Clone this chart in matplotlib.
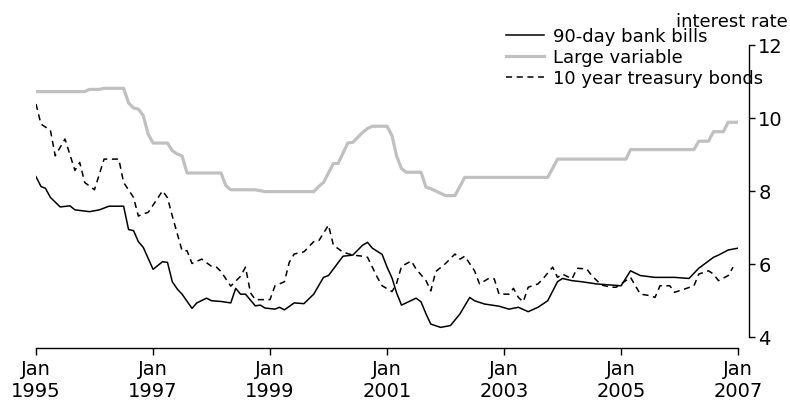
import matplotlib
matplotlib.use("Agg")
import matplotlib.pyplot as plt
import pandas as pd

plt.rcParams["font.family"] = ["DejaVu Sans"]
plt.rcParams["font.size"] = 13

# 90-day bank bills (%)
bill_months = [
    "1995-01", "1995-02", "1995-03", "1995-04", "1995-06", "1995-08", "1995-09", "1995-12",
    "1996-02", "1996-04", "1996-07", "1996-08", "1996-09", "1996-10", "1996-11",
    "1997-01", "1997-03", "1997-04", "1997-05", "1997-06", "1997-07", "1997-09", "1997-10", "1997-12",
    "1998-01", "1998-03", "1998-05", "1998-06", "1998-07", "1998-08", "1998-10", "1998-11", "1998-12",
    "1999-02", "1999-03", "1999-04", "1999-06", "1999-08", "1999-10", "1999-12",
    "2000-01", "2000-04", "2000-06", "2000-08", "2000-09", "2000-10", "2000-12",
    "2001-01", "2001-02", "2001-03", "2001-04", "2001-07", "2001-08", "2001-09", "2001-10", "2001-12",
    "2002-02", "2002-04", "2002-06", "2002-07", "2002-09", "2002-12",
    "2003-02", "2003-04", "2003-06", "2003-08", "2003-10", "2003-12",
    "2004-01", "2004-03", "2004-05", "2004-08", "2004-11",
    "2005-01", "2005-03", "2005-05", "2005-08", "2005-12",
    "2006-03", "2006-05", "2006-08", "2006-09", "2006-11", "2007-01",
]
bill_rates = [
    8.38, 8.11, 8.06, 7.81, 7.55, 7.58, 7.47, 7.42,
    7.47, 7.57, 7.57, 6.93, 6.90, 6.60, 6.44,
    5.84, 6.05, 6.03, 5.50, 5.30, 5.16, 4.77, 4.92, 5.05,
    4.98, 4.96, 4.92, 5.32, 5.16, 5.16, 4.84, 4.86, 4.78,
    4.75, 4.80, 4.73, 4.92, 4.90, 5.16, 5.62,
    5.67, 6.20, 6.23, 6.50, 6.58, 6.42, 6.25,
    5.90, 5.60, 5.20, 4.86, 5.05, 4.95, 4.62, 4.34, 4.25,
    4.30, 4.62, 5.07, 4.98, 4.89, 4.83,
    4.75, 4.80, 4.68, 4.80, 4.98, 5.50,
    5.59, 5.53, 5.50, 5.44, 5.41,
    5.39, 5.80, 5.67, 5.62, 5.62,
    5.59, 5.87, 6.17, 6.23, 6.37, 6.42,
]

# Large variable (%)
large_months = [
    "1995-01", "1995-11", "1995-12", "1996-02", "1996-03", "1996-07", "1996-08", "1996-09",
    "1996-10", "1996-11", "1996-12", "1997-01", "1997-04", "1997-05", "1997-06", "1997-07",
    "1997-08", "1998-03", "1998-04", "1998-05", "1998-10", "1998-12", "1999-10", "1999-11",
    "1999-12", "2000-02", "2000-03", "2000-05", "2000-06", "2000-08", "2000-09", "2000-10",
    "2001-01", "2001-02", "2001-03", "2001-04", "2001-05", "2001-08", "2001-09", "2001-10",
    "2002-01", "2002-03", "2002-05", "2003-10", "2003-12", "2005-02", "2005-03", "2006-04",
    "2006-05", "2006-07", "2006-08", "2006-10", "2006-11", "2007-01",
]
large_rates = [
    10.71, 10.71, 10.77, 10.77, 10.80, 10.80, 10.40, 10.26,
    10.23, 10.05, 9.55, 9.30, 9.30, 9.09, 9.00, 8.95,
    8.48, 8.48, 8.13, 8.02, 8.02, 7.97, 7.97, 8.11,
    8.22, 8.74, 8.74, 9.30, 9.32, 9.59, 9.70, 9.76,
    9.76, 9.50, 8.95, 8.60, 8.50, 8.50, 8.09, 8.05,
    7.86, 7.86, 8.36, 8.36, 8.86, 8.86, 9.12, 9.12,
    9.35, 9.35, 9.61, 9.61, 9.87, 9.87,
]

# 10 year treasury bonds (%)
bond_months = [
    "1995-01", "1995-02", "1995-04", "1995-05", "1995-07", "1995-09", "1995-10", "1995-11",
    "1996-01", "1996-03", "1996-06", "1996-07", "1996-09", "1996-10", "1996-11", "1996-12",
    "1997-01", "1997-03", "1997-04", "1997-05", "1997-07", "1997-08", "1997-09", "1997-11",
    "1998-01", "1998-02", "1998-03", "1998-05", "1998-07", "1998-08", "1998-09", "1998-10",
    "1999-01", "1999-02", "1999-04", "1999-05", "1999-06", "1999-08", "1999-10", "1999-11",
    "2000-01", "2000-02", "2000-04", "2000-06", "2000-08", "2000-09", "2000-11", "2000-12",
    "2001-02", "2001-03", "2001-04", "2001-06", "2001-07", "2001-09", "2001-10", "2001-11",
    "2002-01", "2002-03", "2002-04", "2002-05", "2002-07", "2002-08", "2002-10", "2002-11", "2002-12",
    "2003-02", "2003-03", "2003-04", "2003-05", "2003-06", "2003-08", "2003-09", "2003-11", "2003-12",
    "2004-01", "2004-03", "2004-04", "2004-06", "2004-07", "2004-09", "2004-11", "2004-12",
    "2005-01", "2005-03", "2005-05", "2005-07", "2005-08", "2005-09", "2005-11", "2005-12",
    "2006-02", "2006-04", "2006-05", "2006-07", "2006-08", "2006-09", "2006-11", "2006-12",
]
bond_rates = [
    10.37, 9.82, 9.65, 8.95, 9.41, 8.55, 8.77, 8.22,
    8.02, 8.86, 8.86, 8.22, 7.81, 7.30, 7.36, 7.40,
    7.60, 7.99, 7.80, 7.30, 6.35, 6.35, 6.00, 6.12,
    5.92, 5.90, 5.78, 5.38, 5.65, 5.90, 5.20, 5.01,
    5.01, 5.39, 5.50, 6.03, 6.26, 6.32, 6.60, 6.62,
    7.05, 6.50, 6.31, 6.23, 6.20, 6.17, 5.62, 5.39,
    5.23, 5.45, 5.92, 6.07, 5.85, 5.53, 5.25, 5.78,
    6.00, 6.26, 6.12, 6.20, 5.80, 5.44, 5.60, 5.58, 5.16,
    5.16, 5.32, 5.07, 4.95, 5.35, 5.44, 5.58, 5.90, 5.62,
    5.71, 5.58, 5.87, 5.85, 5.67, 5.41, 5.35, 5.35,
    5.44, 5.62, 5.16, 5.12, 5.07, 5.39, 5.39, 5.21,
    5.30, 5.39, 5.71, 5.80, 5.71, 5.53, 5.67, 5.90,
]

tick_years = [1995, 1997, 1999, 2001, 2003, 2005, 2007]
y_ticks = [4, 6, 8, 10, 12]

W, H = 790, 402
fig = plt.figure(figsize=(W / 100, H / 100), dpi=100)
ax = fig.add_axes([36 / W, 1 - 337.5 / H, (738 - 36) / W, (337.5 - 45.5) / H])

ax.plot(pd.to_datetime(bill_months), bill_rates, color="black", lw=1.1,
        label="90-day bank bills")
ax.plot(pd.to_datetime(large_months), large_rates, color="#c0c0c0", lw=2.3,
        label="Large variable")
ax.plot(pd.to_datetime(bond_months), bond_rates, color="black", lw=1.1,
        linestyle=(0, (4, 3)), label="10 year treasury bonds")

ax.set_xlim(pd.Timestamp("1995-01-01"), pd.Timestamp("2007-01-01"))
ax.set_ylim(4, 12)

xt = [pd.Timestamp(f"{y}-01-01") for y in tick_years]
ax.set_xticks(xt)
ax.set_xticklabels([f"Jan\n{y}" for y in tick_years], linespacing=1.1)
ax.set_yticks(y_ticks)

ax.yaxis.tick_right()
for s in ["left", "top"]:
    ax.spines[s].set_visible(False)
ax.spines["right"].set_position(("outward", 8))
ax.spines["bottom"].set_position(("outward", 8.5))
for s in ["right", "bottom"]:
    ax.spines[s].set_linewidth(1.0)
ax.tick_params(axis="y", length=4.5, width=1.0, pad=2, labelsize=14)
ax.tick_params(axis="x", length=5, width=1.0, pad=2.5, labelsize=14)

fig.text(788 / W, 1 - 27 / H, "interest rate", ha="right", va="baseline", fontsize=13)

fig.legend(loc="upper left", bbox_to_anchor=(506 / W, 1 - 28.5 / H), frameon=False,
           borderpad=0, borderaxespad=0, handlelength=2.1, handletextpad=0.5,
           labelspacing=0.15, fontsize=13)

fig.savefig("out.png", dpi=100)
